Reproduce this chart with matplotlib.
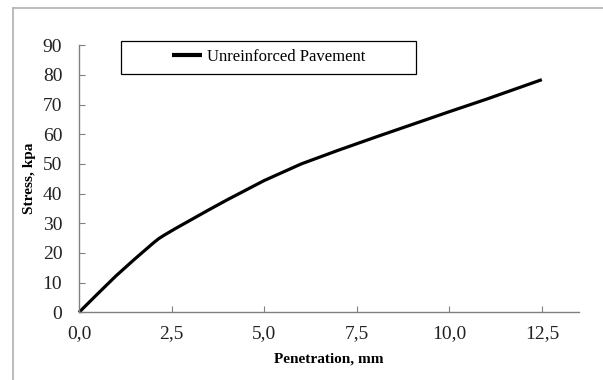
import matplotlib
matplotlib.use("Agg")
import matplotlib.pyplot as plt
from matplotlib.lines import Line2D
from matplotlib.patches import Rectangle

# ------------ data -----------------------------------
penetration = [0, 0.5, 1.0, 1.5, 2.0, 2.15, 2.3, 2.6, 3.0, 3.5, 4.0, 5.0, 6.0, 7.0, 8.0, 9.0,
               10.0, 11.0, 12.5]
stress = [0, 6.2, 12.3, 17.9, 23.3, 24.8, 26.0, 28.2, 31.0, 34.5, 37.9, 44.4, 50.0, 54.6, 59.0,
          63.3, 67.6, 71.8, 78.4]
xticks = [0, 2.5, 5.0, 7.5, 10.0, 12.5]
xtick_labels = ["0,0", "2,5", "5,0", "7,5", "10,0", "12,5"]
yticks = [0, 10, 20, 30, 40, 50, 60, 70, 80, 90]

plt.rcParams["font.family"] = ["Liberation Serif", "DejaVu Serif"]

fig = plt.figure(figsize=(6.03, 3.8), dpi=100)
ax = fig.add_axes([0.131, 0.178, 0.829, 0.703])

ax.plot(penetration, stress, color="black", linewidth=2.3, label="Unreinforced Pavement",
        solid_capstyle="butt", solid_joinstyle="round", clip_on=False)

ax.set_xlim(0, 13.5)
ax.set_ylim(0, 90)
ax.set_xticks(xticks)
ax.set_xticklabels(xtick_labels)
ax.set_yticks(yticks)
ax.tick_params(direction="in", length=4, width=0.8, colors="#808080", labelcolor="#222222",
               labelsize=14)
ax.tick_params(axis="x", pad=9)
ax.tick_params(axis="y", pad=12)

for side in ["top", "right"]:
    ax.spines[side].set_visible(False)
for side in ["left", "bottom"]:
    ax.spines[side].set_color("#808080")
    ax.spines[side].set_linewidth(1.0)

ax.set_xlabel("Penetration, mm", fontsize=11, fontweight="bold", labelpad=8)
ax.set_ylabel("Stress, kpa", fontsize=11, fontweight="bold", labelpad=5)

# legend box
ax.add_patch(Rectangle((0.084, 0.893), 0.59, 0.123, transform=ax.transAxes,
                       fill=False, edgecolor="black", linewidth=0.9, clip_on=False))
leg = ax.legend(loc="center", bbox_to_anchor=(0.38, 0.955), frameon=False,
                fontsize=12, handlelength=1.8, handletextpad=0.3)
for h in leg.legend_handles:
    h.set_linewidth(3)

# outer frame of the chart area
fig.add_artist(Line2D([13 / 603, 13 / 603], [0, 1 - 8 / 380], color="#b0b0b0", linewidth=1.2))
fig.add_artist(Line2D([13 / 603, 1], [1 - 8 / 380, 1 - 8 / 380], color="#b0b0b0", linewidth=1.2))

fig.savefig("out.png", dpi=100)
